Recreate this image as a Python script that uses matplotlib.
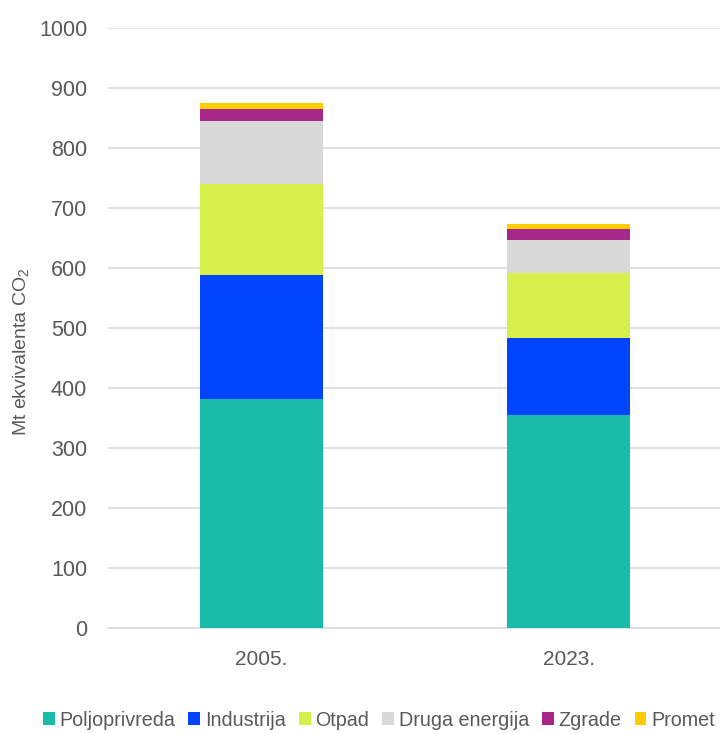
import numpy as np
import matplotlib
matplotlib.use('Agg')
import matplotlib.pyplot as plt

plt.rcParams['font.family'] = ['Liberation Sans', 'DejaVu Sans']
plt.rcParams['mathtext.fontset'] = 'custom'
plt.rcParams['mathtext.rm'] = 'Liberation Sans'

years = ["2005.", "2023."]
sectors = ["Poljoprivreda", "Industrija", "Otpad", "Druga energija", "Zgrade", "Promet"]
colors = ["#19BCA9", "#0044FF", "#D6EF4A", "#D9D9D9", "#A8288A", "#FFCC00"]

poljoprivreda = [382, 355]
industrija = [206, 129]
otpad = [152, 107]
druga_energija = [105, 56]
zgrade = [20, 18]
promet = [10, 8]

series = [poljoprivreda, industrija, otpad, druga_energija, zgrade, promet]
grey = "#595959"

fig = plt.figure(figsize=(7.2, 7.33), dpi=100)
ax = fig.add_axes([0.15, 0.1432, 0.853, 0.8186])

x = np.arange(len(years))
bottom = np.zeros(len(years))
for name, vals, c in zip(sectors, series, colors):
    ax.bar(x, vals, width=0.4, bottom=bottom, color=c, label=name, zorder=3)
    bottom += np.array(vals)

ax.set_xlim(-0.5, 1.5)
ax.set_ylim(0, 1000)
ax.set_yticks(np.arange(0, 1001, 100))
ax.set_xticks(x)
ax.set_xticklabels(years)
ax.yaxis.grid(True, color="#D9D9D9", linewidth=1.1, zorder=0)
for s in ["top", "right", "left"]:
    ax.spines[s].set_visible(False)
ax.spines["bottom"].set_color("#D9D9D9")
ax.spines["bottom"].set_linewidth(1.1)
ax.tick_params(axis="y", length=0, labelsize=15.5, colors=grey, pad=15)
ax.tick_params(axis="x", length=0, labelsize=15, colors=grey, pad=16)

ax.set_ylabel(r"Mt ekvivalenta CO$\mathregular{_2}$", fontsize=14, color=grey)
ax.yaxis.set_label_coords(-0.125, 0.46)

handles, labels = ax.get_legend_handles_labels()
fig.legend(handles, labels, loc="center", bbox_to_anchor=(379 / 720, 1 - 720 / 733),
           ncol=6, frameon=False, fontsize=14.2, labelcolor=grey,
           handlelength=0.6, handleheight=0.6, handletextpad=0.25, columnspacing=0.65)

fig.savefig("out.png", dpi=100)
